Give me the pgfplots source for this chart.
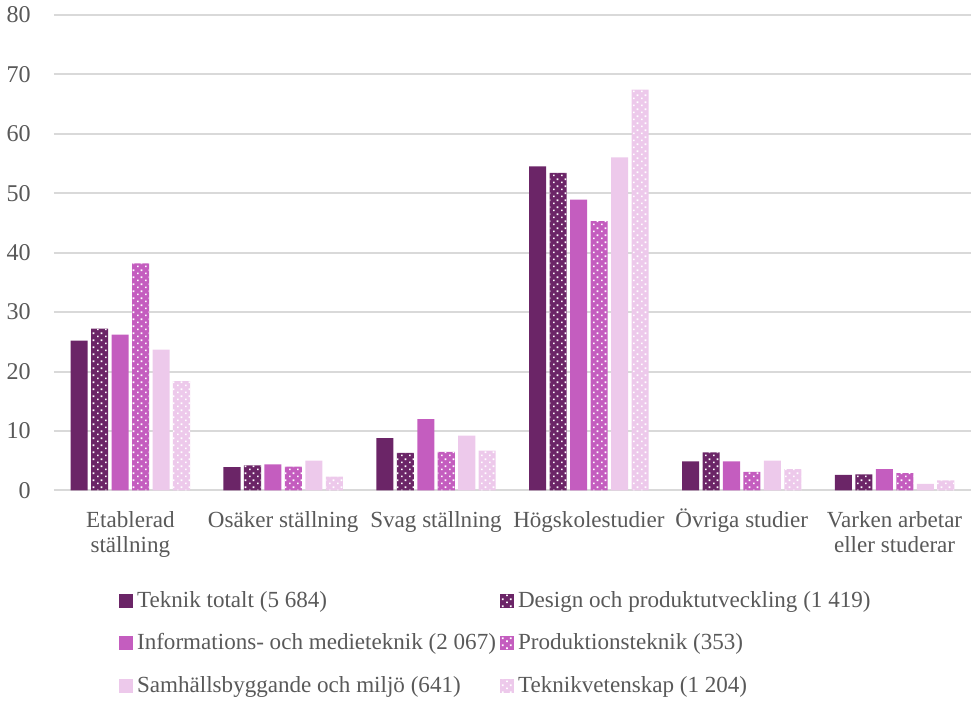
\documentclass[border=0pt]{standalone}
\usepackage{fontspec}
\setmainfont{Liberation Serif}
\usepackage{pgfplots}
\pgfplotsset{compat=1.18}
\usetikzlibrary{patterns.meta}
\definecolor{cA}{HTML}{6B2567}
\definecolor{cB}{HTML}{C45DBF}
\definecolor{cC}{HTML}{EDC9EB}
\definecolor{gridc}{HTML}{D9D9D9}
\definecolor{txt}{HTML}{595959}
\tikzdeclarepattern{name=wdots, type=uncolored,
  bottom left={(0pt,0pt)}, top right={(4pt,3.3pt)}, tile size={(4pt,3.3pt)},
  code={\fill (0.6pt,0.4pt) rectangle (1.5pt,1.3pt);
        \fill (2.6pt,2.05pt) rectangle (3.5pt,2.95pt);}}
\pgfplotsset{
  solidbar/.style={fill=#1, draw=none},
  dotbar/.style={fill=#1, draw=none, postaction={pattern={wdots}, pattern color=white}},
}
\newcommand{\st}{\rule{0pt}{11pt}}
\begin{document}
\begin{tikzpicture}
\begin{axis}[
  width=457pt, height=237pt, scale only axis,
  ybar=1.7pt, bar width=8.5pt,
  ymin=0, ymax=80, ytick={0,10,...,80},
  xmin=-0.5, xmax=5.5,
  xtick={0,1,2,3,4,5},
  xticklabels={{\st Etablerad\\ställning},{\st Osäker ställning},{\st Svag ställning},{\st Högskolestudier},{\st Övriga studier},{\st Varken arbetar\\eller studerar}},
  xticklabel style={align=center, text=txt, font=\fontsize{11.5}{12.5}\selectfont, anchor=north, yshift=-4pt},
  yticklabel style={text=txt, font=\fontsize{12}{14}\selectfont, xshift=-8pt},
  /pgf/number format/assume math mode=true,
  axis line style={draw=none},
  major tick length=0pt,
  ymajorgrids, grid style={gridc, line width=1pt},
  clip=false,
  legend columns=2,
  legend cell align=left,
  legend style={draw=none, fill=none, at={(axis description cs:0.064,-0.195)}, anchor=north west,
    font=\fontsize{11.5}{13}\selectfont, text=txt,
    row sep=7.5pt,
    /tikz/every even column/.append style={column sep=0pt},
    /tikz/every odd column/.append style={column sep=0pt}},
  legend image code/.code={\path[#1] (0pt,-3.5pt) rectangle (7pt,3.5pt);},
]
\addplot[solidbar=cA] coordinates {(0,25.2) (1,3.9) (2,8.8) (3,54.5) (4,4.9) (5,2.6)};
\addplot[dotbar=cA] coordinates {(0,27.2) (1,4.2) (2,6.3) (3,53.4) (4,6.4) (5,2.7)};
\addplot[solidbar=cB] coordinates {(0,26.2) (1,4.4) (2,12.0) (3,48.9) (4,4.9) (5,3.6)};
\addplot[dotbar=cB] coordinates {(0,38.2) (1,4.0) (2,6.5) (3,45.3) (4,3.1) (5,2.9)};
\addplot[solidbar=cC] coordinates {(0,23.7) (1,5.0) (2,9.2) (3,56.0) (4,5.0) (5,1.1)};
\addplot[dotbar=cC] coordinates {(0,18.4) (1,2.3) (2,6.7) (3,67.4) (4,3.6) (5,1.7)};
\legend{Teknik totalt (5 684),Design och produktutveckling (1 419),Informations- och medieteknik (2 067),Produktionsteknik (353),Samhällsbyggande och miljö (641),Teknikvetenskap (1 204)}
\end{axis}
\end{tikzpicture}
\end{document}
